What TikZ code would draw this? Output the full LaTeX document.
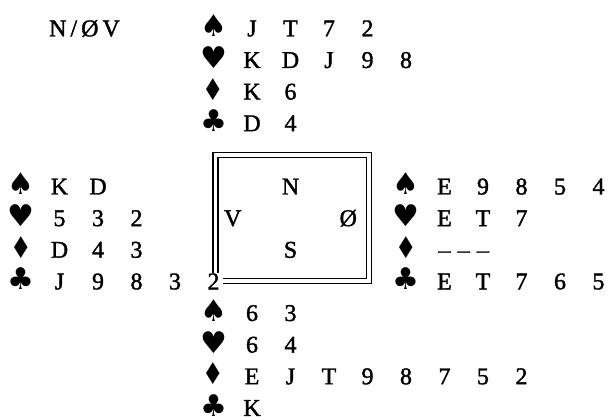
\documentclass[tikz,border=0pt]{standalone}
\usepackage{fontspec}
\setmainfont{Liberation Serif}[FakeBold=1.5]
\newfontfamily\suitfont{DejaVu Sans}
\usetikzlibrary{positioning}

% one suit of a hand: name, column, row, symbol, cards
\newcommand{\suitrow}[5]{%
  \node[suit] (#1) at (#2,#3) {#4};
  \foreach \crd [count=\idx] in {#5}
    \node[card] (#1-\idx) at ({#2+2*\idx},#3) {\crd};
}
\newcommand{\narrowdia}{\scalebox{0.8}[1]{♦}}

\begin{document}
\begin{tikzpicture}[
    x=19.25pt, y=-31.63pt,
    every node/.style={font=\fontsize{24}{28}\selectfont,
                       text height=16pt, text depth=0pt,
                       inner xsep=3pt, inner ysep=0.5pt},
    card/.style={fill=white},
    suit/.style={font=\fontsize{30}{34}\suitfont, yshift=-0.5pt},
    seat/.style={},
    frame/.style={line width=1.2pt}
]
  \useasboundingbox (-21pt,28.3pt) rectangle (589pt,-388.7pt);

  \node (board) at (3.3,0) {N\,/\,Ø\,V};

  % table
  \draw[frame] (9.97,3.93) rectangle (18.22,8.07);
  \draw[frame] (10.23,4.09) rectangle (17.95,7.90);
  \node[seat] (north) at (14,5) {N};
  \node[seat] (west)  at (11,6) {V};
  \node[seat] (east)  at (17,6) {Ø};
  \node[seat] (south) at (14,7) {S};

  % north
  \suitrow{n-s}{10}{0}{♠}{J,T,7,2}
  \suitrow{n-h}{10}{1}{♥}{K,D,J,9,8}
  \suitrow{n-d}{10}{2}{\narrowdia}{K,6}
  \suitrow{n-c}{10}{3}{♣}{D,4}

  % west
  \suitrow{w-s}{0}{5}{♠}{K,D}
  \suitrow{w-h}{0}{6}{♥}{5,3,2}
  \suitrow{w-d}{0}{7}{\narrowdia}{D,4,3}
  \suitrow{w-c}{0}{8}{♣}{J,9,8,3,2}

  % east
  \suitrow{e-s}{20}{5}{♠}{E,9,8,5,4}
  \suitrow{e-h}{20}{6}{♥}{E,T,7}
  \node[suit] (e-d) at (20,7) {\narrowdia};
  \node (e-d-void) at (23,7)
        {\textendash\kern7.25pt\textendash\kern7.25pt\textendash};
  \suitrow{e-c}{20}{8}{♣}{E,T,7,6,5}

  % south
  \suitrow{s-s}{10}{9}{♠}{6,3}
  \suitrow{s-h}{10}{10}{♥}{6,4}
  \suitrow{s-d}{10}{11}{\narrowdia}{E,J,T,9,8,7,5,2}
  \suitrow{s-c}{10}{12}{♣}{K}
\end{tikzpicture}
\end{document}
